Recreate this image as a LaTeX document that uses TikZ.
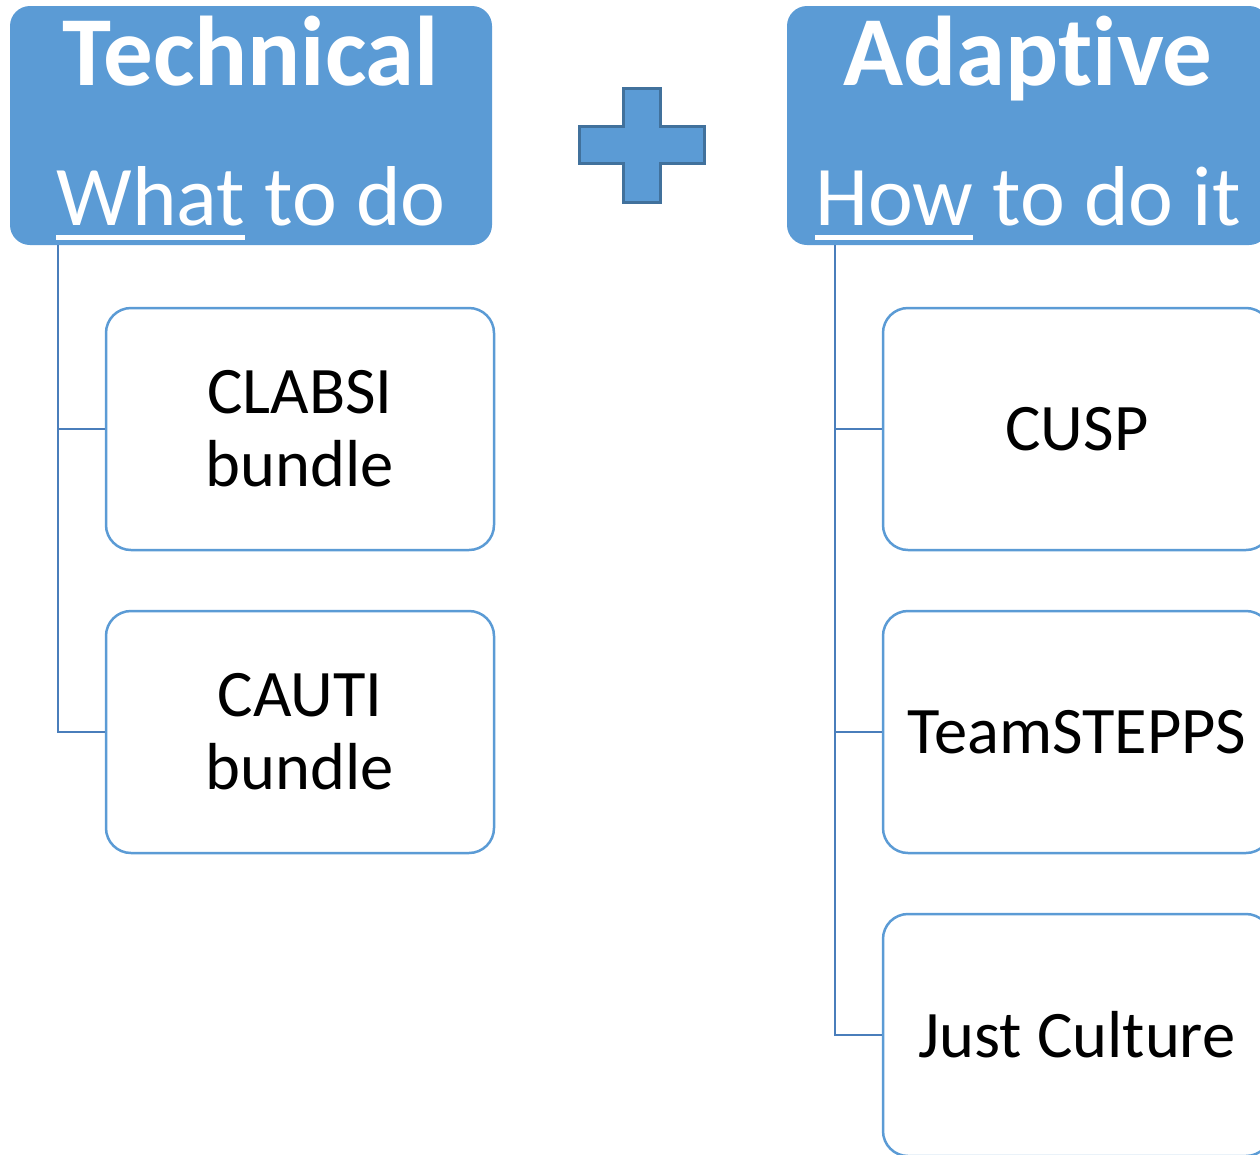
\documentclass[tikz,border=0pt]{standalone}
\usepackage{fontspec}
\setmainfont[Ligatures={NoCommon}]{Carlito}
\definecolor{hdr}{HTML}{5B9BD5}
\definecolor{plusedge}{HTML}{41719C}
\definecolor{treeline}{HTML}{4A7EBB}
\newcommand\myul[1]{\setbox0\hbox{#1}\rlap{\rule[-15pt]{\wd0}{5pt}}\box0\relax}
\tikzset{
  header/.style={fill=hdr, draw=none, rounded corners=20pt, minimum width=482pt, minimum height=239pt, inner sep=0pt},
  child/.style={draw=hdr, line width=2.5pt, fill=white, rounded corners=25pt, minimum width=388pt, minimum height=242pt, inner sep=0pt, align=center, font=\fontsize{66.5}{73}\selectfont},
  tree/.style={draw=treeline, line width=2.5pt},
  titletxt/.style={text=white, anchor=base, inner sep=0pt, font=\fontsize{99}{110}\selectfont\bfseries},
  subtxt/.style={text=white, anchor=base, inner sep=0pt, font=\fontsize{85}{96}\selectfont},
}
\begin{document}
\begin{tikzpicture}[x=1pt,y=-1pt]
\useasboundingbox (0,0) rectangle (1260,1154);
\clip (0,0) rectangle (1260,1154);
% headers
\node[header] (tech) at (251,125.5) {};
\node[header] (adapt) at (1028,125.5) {};
\node[titletxt] (techT) at (251,85) {Technical};
\node[subtxt] (techS) at (251,225) {\myul{What} to do};
\node[titletxt] (adaptT) at (1028,85) {Adaptive};
\node[subtxt] (adaptS) at (1028,225) {\myul{How} to do it};
% plus sign
\draw[fill=hdr, draw=plusedge, line width=3pt]
  (623,88) -- (660,88) -- (660,126) -- (704,126) -- (704,163) -- (660,163)
  -- (660,202) -- (623,202) -- (623,163) -- (579,163) -- (579,126) -- (623,126) -- cycle;
% children
\node[child] (clabsi) at (300,429) {CLABSI\\bundle};
\node[child] (cauti) at (300,732) {CAUTI\\bundle};
\node[child] (cusp) at (1077,429) {CUSP};
\node[child] (team) at (1077,732) {TeamSTEPPS};
\node[child] (just) at (1077,1035) {Just Culture};
% connectors
\coordinate (lroot) at ([xshift=48pt]tech.south west);
\coordinate (rroot) at ([xshift=48pt]adapt.south west);
\draw[tree] (lroot) |- (clabsi.west);
\draw[tree] (lroot) |- (cauti.west);
\draw[tree] (rroot) |- (cusp.west);
\draw[tree] (rroot) |- (team.west);
\draw[tree] (rroot) |- (just.west);
\end{tikzpicture}
\end{document}
